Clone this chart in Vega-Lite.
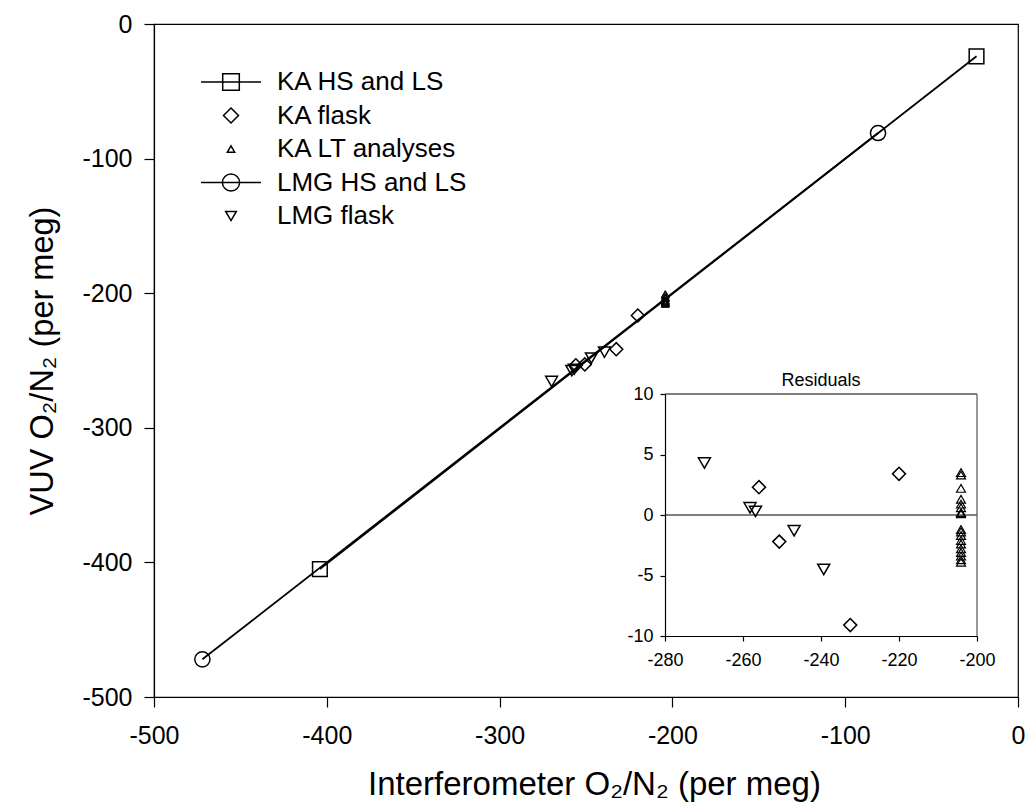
{
  "$schema": "https://vega.github.io/schema/vega-lite/v6.json",
  "width": 864,
  "height": 673,
  "autosize": {"type": "none"},
  "padding": {"left": 154, "top": 24, "right": 8, "bottom": 114},
  "background": "white",
  "config": {
    "font": "Liberation Sans",
    "view": {"stroke": "black", "strokeWidth": 1.2},
    "axis": {
      "grid": false,
      "domainColor": "black",
      "tickColor": "black",
      "labelColor": "black",
      "titleColor": "black",
      "titleFontWeight": "normal",
      "labelFont": "Liberation Sans",
      "titleFont": "Liberation Sans",
      "domainWidth": 1.2,
      "tickWidth": 1.2,
      "labelFlush": false,
      "labelOverlap": false
    }
  },
  "datasets": {
    "pts": [
      {"series": "KA HS and LS", "interf": -24, "vuv": -24},
      {"series": "KA HS and LS", "interf": -404, "vuv": -405},
      {"series": "LMG HS and LS", "interf": -81, "vuv": -81},
      {"series": "LMG HS and LS", "interf": -472, "vuv": -472},
      {"series": "KA flask", "interf": -255.9, "vuv": -253.6, "resid": 2.3},
      {"series": "KA flask", "interf": -250.7, "vuv": -252.9, "resid": -2.2},
      {"series": "KA flask", "interf": -232.5, "vuv": -241.6, "resid": -9.1},
      {"series": "KA flask", "interf": -220.0, "vuv": -216.6, "resid": 3.4},
      {"series": "LMG flask", "interf": -269.9, "vuv": -265.6, "resid": 4.3},
      {"series": "LMG flask", "interf": -258.2, "vuv": -257.6, "resid": 0.6},
      {"series": "LMG flask", "interf": -256.8, "vuv": -256.5, "resid": 0.3},
      {"series": "LMG flask", "interf": -246.9, "vuv": -248.2, "resid": -1.3},
      {"series": "LMG flask", "interf": -239.3, "vuv": -243.8, "resid": -4.5},
      {"series": "KA LT analyses", "interf": -204.1, "vuv": -200.6, "resid": 3.5},
      {"series": "KA LT analyses", "interf": -204.1, "vuv": -200.8, "resid": 3.3},
      {"series": "KA LT analyses", "interf": -204.1, "vuv": -201.9, "resid": 2.2},
      {"series": "KA LT analyses", "interf": -204.1, "vuv": -202.8, "resid": 1.3},
      {"series": "KA LT analyses", "interf": -204.1, "vuv": -203.2, "resid": 0.9},
      {"series": "KA LT analyses", "interf": -204.1, "vuv": -203.5, "resid": 0.6},
      {"series": "KA LT analyses", "interf": -204.1, "vuv": -203.9, "resid": 0.2},
      {"series": "KA LT analyses", "interf": -204.1, "vuv": -204.0, "resid": 0.1},
      {"series": "KA LT analyses", "interf": -204.1, "vuv": -205.3, "resid": -1.2},
      {"series": "KA LT analyses", "interf": -204.1, "vuv": -205.5, "resid": -1.4},
      {"series": "KA LT analyses", "interf": -204.1, "vuv": -205.8, "resid": -1.7},
      {"series": "KA LT analyses", "interf": -204.1, "vuv": -206.2, "resid": -2.1},
      {"series": "KA LT analyses", "interf": -204.1, "vuv": -206.5, "resid": -2.4},
      {"series": "KA LT analyses", "interf": -204.1, "vuv": -206.9, "resid": -2.8},
      {"series": "KA LT analyses", "interf": -204.1, "vuv": -207.2, "resid": -3.1},
      {"series": "KA LT analyses", "interf": -204.1, "vuv": -207.5, "resid": -3.4},
      {"series": "KA LT analyses", "interf": -204.1, "vuv": -207.8, "resid": -3.7},
      {"series": "KA LT analyses", "interf": -204.1, "vuv": -208.0, "resid": -3.9}
    ]
  },
  "layer": [
    {
      "data": {"name": "pts"},
      "transform": [{"filter": "datum.series === 'KA HS and LS' || datum.series === 'LMG HS and LS'"}],
      "mark": {"type": "line", "color": "black", "strokeWidth": 1.8},
      "encoding": {
        "x": {
          "field": "interf", "type": "quantitative",
          "scale": {"domain": [-500, 0], "nice": false, "zero": false},
          "axis": {
            "orient": "bottom",
            "values": [-500, -400, -300, -200, -100, 0],
            "labelExpr": "'' + datum.value",
            "tickSize": 10, "labelFontSize": 25, "labelPadding": 16,
            "title": "Interferometer O₂/N₂ (per meg)", "titleFontSize": 33, "titlePadding": 20, "titleX": 440
          }
        },
        "y": {
          "field": "vuv", "type": "quantitative",
          "scale": {"domain": [-500, 0], "nice": false, "zero": false},
          "axis": {
            "orient": "left",
            "values": [-500, -400, -300, -200, -100, 0],
            "labelExpr": "'' + datum.value",
            "tickSize": 10, "labelFontSize": 25, "labelPadding": 12,
            "title": "VUV O₂/N₂ (per meg)", "titleFontSize": 32.5, "titlePadding": 22
          }
        },
        "detail": {"field": "series"}
      }
    },
    {
      "data": {"name": "pts"},
      "transform": [{"filter": "datum.series === 'KA HS and LS'"}],
      "mark": {"type": "point", "shape": "square", "size": 215, "filled": false, "color": "black", "strokeWidth": 1.5, "opacity": 1},
      "encoding": {
        "x": {"field": "interf", "type": "quantitative", "scale": {"domain": [-500, 0], "nice": false, "zero": false}, "axis": null},
        "y": {"field": "vuv", "type": "quantitative", "scale": {"domain": [-500, 0], "nice": false, "zero": false}, "axis": null}
      }
    },
    {
      "data": {"name": "pts"},
      "transform": [{"filter": "datum.series === 'LMG HS and LS'"}],
      "mark": {"type": "point", "shape": "circle", "size": 230, "filled": false, "color": "black", "strokeWidth": 1.5, "opacity": 1},
      "encoding": {
        "x": {"field": "interf", "type": "quantitative", "scale": {"domain": [-500, 0], "nice": false, "zero": false}, "axis": null},
        "y": {"field": "vuv", "type": "quantitative", "scale": {"domain": [-500, 0], "nice": false, "zero": false}, "axis": null}
      }
    },
    {
      "data": {"name": "pts"},
      "transform": [{"filter": "datum.series === 'KA flask'"}],
      "mark": {"type": "point", "shape": "diamond", "size": 170, "filled": false, "color": "black", "strokeWidth": 1.5, "opacity": 1},
      "encoding": {
        "x": {"field": "interf", "type": "quantitative", "scale": {"domain": [-500, 0], "nice": false, "zero": false}, "axis": null},
        "y": {"field": "vuv", "type": "quantitative", "scale": {"domain": [-500, 0], "nice": false, "zero": false}, "axis": null}
      }
    },
    {
      "data": {"name": "pts"},
      "transform": [{"filter": "datum.series === 'LMG flask'"}],
      "mark": {"type": "point", "shape": "triangle-down", "size": 140, "filled": false, "color": "black", "strokeWidth": 1.5, "opacity": 1},
      "encoding": {
        "x": {"field": "interf", "type": "quantitative", "scale": {"domain": [-500, 0], "nice": false, "zero": false}, "axis": null},
        "y": {"field": "vuv", "type": "quantitative", "scale": {"domain": [-500, 0], "nice": false, "zero": false}, "axis": null}
      }
    },
    {
      "data": {"name": "pts"},
      "transform": [{"filter": "datum.series === 'KA LT analyses'"}],
      "mark": {"type": "point", "shape": "triangle-up", "size": 60, "filled": false, "color": "black", "strokeWidth": 0.9, "opacity": 1},
      "encoding": {
        "x": {"field": "interf", "type": "quantitative", "scale": {"domain": [-500, 0], "nice": false, "zero": false}, "axis": null},
        "y": {"field": "vuv", "type": "quantitative", "scale": {"domain": [-500, 0], "nice": false, "zero": false}, "axis": null}
      }
    },
    {
      "data": {"name": "pts"},
      "mark": {"type": "point", "filled": false, "color": "black", "opacity": 0},
      "encoding": {
        "x": {"field": "interf", "type": "quantitative", "scale": {"domain": [-500, 0], "nice": false, "zero": false}, "axis": null},
        "y": {"field": "vuv", "type": "quantitative", "scale": {"domain": [-500, 0], "nice": false, "zero": false}, "axis": null},
        "shape": {
          "field": "series", "type": "nominal",
          "scale": {
            "domain": ["KA HS and LS", "KA flask", "KA LT analyses", "LMG HS and LS", "LMG flask"],
            "range": [
              "M-3,0H3M-0.83,-0.83H0.83V0.83H-0.83Z",
              "M0,-0.75L0.75,0L0,0.75L-0.75,0Z",
              "M0,-0.316L0.365,0.316L-0.365,0.316Z",
              "M-3,0H3M0.86,0A0.86,0.86,0,1,1,-0.86,0A0.86,0.86,0,1,1,0.86,0Z",
              "M-0.535,-0.46L0.535,-0.46L0,0.46Z"
            ]
          },
          "legend": {
            "title": null,
            "orient": "none",
            "legendX": 64,
            "legendY": 45,
            "padding": 0,
            "symbolSize": 400,
            "symbolStrokeWidth": 1.5,
            "symbolStrokeColor": "black",
            "symbolFillColor": "transparent",
            "symbolOpacity": 1,
            "labelFontSize": 26,
            "labelFont": "Liberation Sans",
            "labelColor": "black",
            "labelOffset": 33,
            "labelLimit": 400,
            "rowPadding": 7.5
          }
        }
      }
    },
    {
      "data": {"name": "pts"},
      "transform": [{"filter": "datum.series === 'KA LT analyses'"}],
      "mark": {"type": "point", "shape": "triangle-up", "size": 80, "filled": false, "color": "black", "strokeWidth": 1.2, "opacity": 1},
      "encoding": {
        "x": {
          "field": "interf", "type": "quantitative",
          "scale": {"domain": [-280, -200], "range": [511, 823], "nice": false, "zero": false},
          "axis": {
            "orient": "bottom", "offset": -61,
            "values": [-280, -260, -240, -220, -200],
            "labelExpr": "'' + datum.value",
            "tickSize": 5, "labelFontSize": 18, "labelPadding": 10, "title": null
          }
        },
        "y": {
          "field": "resid", "type": "quantitative",
          "scale": {"domain": [-10, 10], "range": [612, 370], "nice": false, "zero": false},
          "axis": {
            "orient": "left", "offset": -511,
            "values": [-10, -5, 0, 5, 10],
            "labelExpr": "'' + datum.value",
            "tickSize": 5, "labelFontSize": 18, "labelPadding": 7, "title": null
          }
        }
      }
    },
    {
      "data": {"name": "pts"},
      "transform": [{"filter": "datum.series === 'KA flask'"}],
      "mark": {"type": "point", "shape": "diamond", "size": 170, "filled": false, "color": "black", "strokeWidth": 1.5, "opacity": 1},
      "encoding": {
        "x": {"field": "interf", "type": "quantitative", "scale": {"domain": [-280, -200], "range": [511, 823], "nice": false, "zero": false}, "axis": null},
        "y": {"field": "resid", "type": "quantitative", "scale": {"domain": [-10, 10], "range": [612, 370], "nice": false, "zero": false}, "axis": null}
      }
    },
    {
      "data": {"name": "pts"},
      "transform": [{"filter": "datum.series === 'LMG flask'"}],
      "mark": {"type": "point", "shape": "triangle-down", "size": 145, "filled": false, "color": "black", "strokeWidth": 1.5, "opacity": 1},
      "encoding": {
        "x": {"field": "interf", "type": "quantitative", "scale": {"domain": [-280, -200], "range": [511, 823], "nice": false, "zero": false}, "axis": null},
        "y": {"field": "resid", "type": "quantitative", "scale": {"domain": [-10, 10], "range": [612, 370], "nice": false, "zero": false}, "axis": null}
      }
    },
    {
      "data": {"values": [{}]},
      "mark": {"type": "rule", "color": "black", "strokeWidth": 1.2},
      "encoding": {
        "x": {"datum": -280, "type": "quantitative", "scale": {"domain": [-280, -200], "range": [511, 823], "nice": false, "zero": false}, "axis": null},
        "x2": {"datum": -200},
        "y": {"datum": 0, "type": "quantitative", "scale": {"domain": [-10, 10], "range": [612, 370], "nice": false, "zero": false}, "axis": null}
      }
    },
    {
      "data": {"values": [{}]},
      "mark": {"type": "rule", "color": "black", "strokeWidth": 1.2},
      "encoding": {
        "x": {"datum": -280, "type": "quantitative", "scale": {"domain": [-280, -200], "range": [511, 823], "nice": false, "zero": false}, "axis": null},
        "x2": {"datum": -200},
        "y": {"datum": 10, "type": "quantitative", "scale": {"domain": [-10, 10], "range": [612, 370], "nice": false, "zero": false}, "axis": null}
      }
    },
    {
      "data": {"values": [{}]},
      "mark": {"type": "rule", "color": "#555555", "strokeWidth": 1.2},
      "encoding": {
        "x": {"datum": -200, "type": "quantitative", "scale": {"domain": [-280, -200], "range": [511, 823], "nice": false, "zero": false}, "axis": null},
        "y": {"datum": -10, "type": "quantitative", "scale": {"domain": [-10, 10], "range": [612, 370], "nice": false, "zero": false}, "axis": null},
        "y2": {"datum": 10}
      }
    },
    {
      "data": {"values": [{}]},
      "mark": {"type": "text", "text": "Residuals", "fontSize": 18, "font": "Liberation Sans", "color": "black", "baseline": "alphabetic", "align": "center", "dy": -8},
      "encoding": {
        "x": {"datum": -240, "type": "quantitative", "scale": {"domain": [-280, -200], "range": [511, 823], "nice": false, "zero": false}, "axis": null},
        "y": {"datum": 10, "type": "quantitative", "scale": {"domain": [-10, 10], "range": [612, 370], "nice": false, "zero": false}, "axis": null}
      }
    }
  ],
  "resolve": {"scale": {"x": "independent", "y": "independent"}}
}
